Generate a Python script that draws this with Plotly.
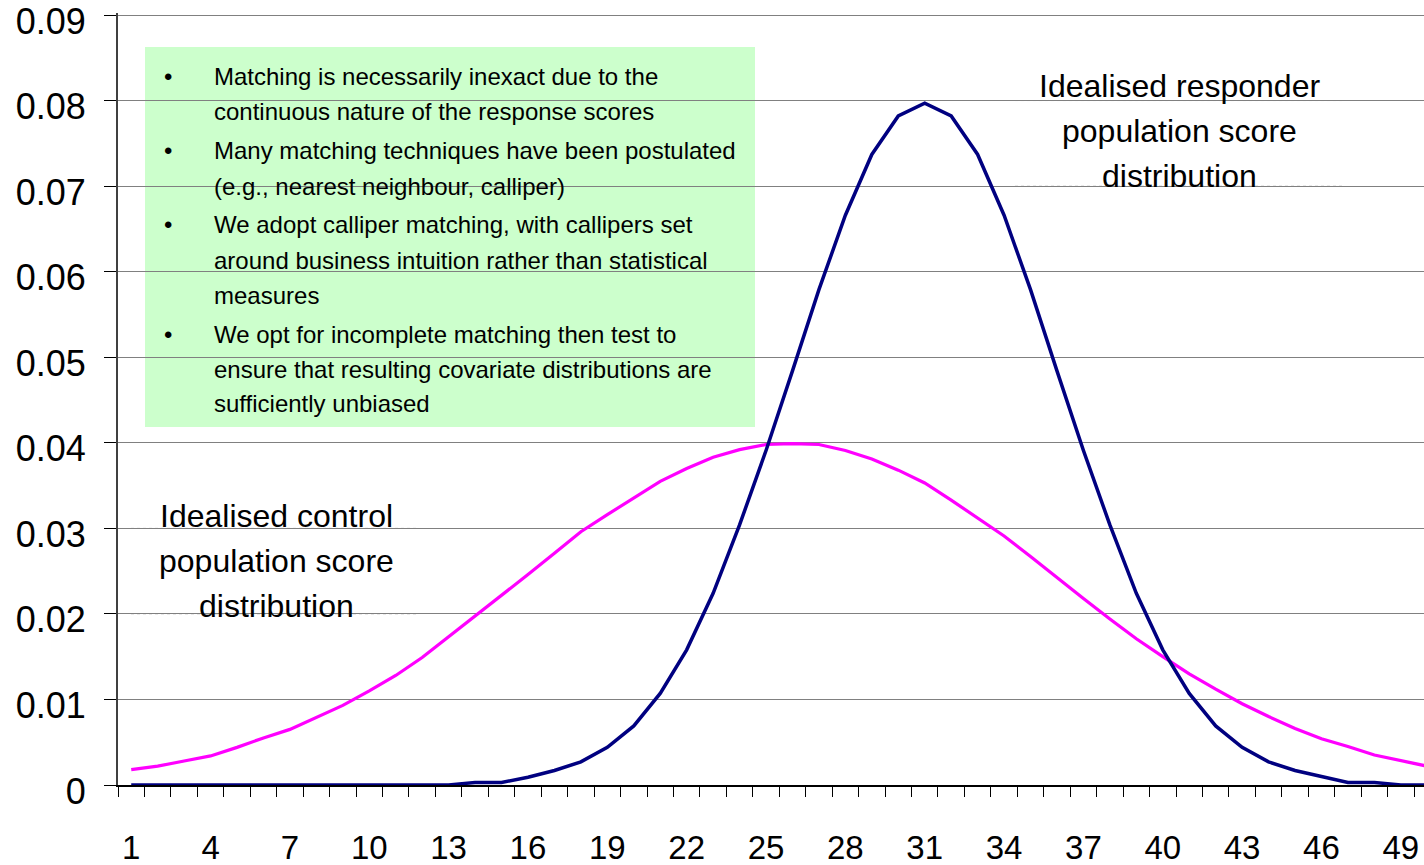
import plotly.graph_objects as go

# ---- data -------------------------------------------------------------
scores = list(range(1, 51))

responder = [
    0.0000, 0.0000, 0.0000, 0.0000, 0.0000, 0.0000, 0.0000, 0.0000, 0.0000, 0.0000,
    0.0000, 0.0000, 0.0000, 0.0003, 0.0003, 0.0009, 0.0017, 0.0027, 0.0044, 0.0069,
    0.0107, 0.0158, 0.0224, 0.0304, 0.0391, 0.0484, 0.0579, 0.0666, 0.0737, 0.0782,
    0.0797, 0.0782, 0.0737, 0.0666, 0.0579, 0.0484, 0.0391, 0.0304, 0.0224, 0.0158,
    0.0107, 0.0069, 0.0044, 0.0027, 0.0017, 0.0010, 0.0003, 0.0003, 0.0000, 0.0000,
]

control = [
    0.0018, 0.0022, 0.0028, 0.0034, 0.0044, 0.0055, 0.0065, 0.0079, 0.0093, 0.0110,
    0.0128, 0.0149, 0.0173, 0.0197, 0.0221, 0.0246, 0.0271, 0.0296, 0.0316, 0.0335,
    0.0355, 0.0370, 0.0383, 0.0392, 0.0398, 0.0399, 0.0398, 0.0391, 0.0381, 0.0368,
    0.0353, 0.0333, 0.0312, 0.0291, 0.0267, 0.0242, 0.0218, 0.0194, 0.0171, 0.0150,
    0.0130, 0.0112, 0.0095, 0.0080, 0.0066, 0.0054, 0.0045, 0.0035, 0.0028, 0.0022,
]

x_tick_values = list(range(1, 50, 3))
y_tick_values = [0, 0.01, 0.02, 0.03, 0.04, 0.05, 0.06, 0.07, 0.08, 0.09]
y_tick_labels = ["0", "0.01", "0.02", "0.03", "0.04", "0.05", "0.06", "0.07", "0.08", "0.09"]

bullets = [
    ["Matching is necessarily inexact due to the",
     "continuous nature of the response scores"],
    ["Many matching techniques have been postulated",
     "(e.g., nearest neighbour, calliper)"],
    ["We adopt calliper matching, with callipers set",
     "around business intuition rather than statistical",
     "measures"],
    ["We opt for incomplete matching then test to",
     "ensure that resulting covariate distributions are",
     "sufficiently unbiased"],
]

responder_label = ["Idealised responder", "population score", "distribution"]
control_label = ["Idealised control", "population score", "distribution"]

# ---- layout geometry (pixels) ----------------------------------------
W, H = 1424, 865
ML, MR, MT, MB = 118, 0, 13, 80
PW, PH = W - ML - MR, H - MT - MB
CAT_W = 26.45            # pixel width of one score category
Y_PX_PER_UNIT = 770 / 0.09  # vertical scale of the value axis
Y_TOP = PH / Y_PX_PER_UNIT  # a touch above 0.09 so the top tick stays in range


def px(xp):
    return (xp - ML) / PW


def py(yp):
    return (H - MB - yp) / PH


FONT = "Arial, Liberation Sans, sans-serif"

fig = go.Figure()
fig.add_trace(go.Scatter(x=scores, y=control, mode="lines",
                         line=dict(color="#FF00FF", width=3.2),
                         name="Control", showlegend=False, hoverinfo="skip"))
fig.add_trace(go.Scatter(x=scores, y=responder, mode="lines",
                         line=dict(color="#000080", width=3.5),
                         name="Responder", showlegend=False, hoverinfo="skip"))

shapes = []
annotations = []

# green bullet panel
shapes.append(dict(type="rect", xref="paper", yref="paper",
                   x0=px(145), x1=px(755), y0=py(427), y1=py(47),
                   fillcolor="#CCFFCC", line=dict(width=0), layer="between"))

line_y = [[77, 111], [151, 186], [225, 260, 295], [334, 369, 403]]
for lines, ys in zip(bullets, line_y):
    annotations.append(dict(xref="paper", yref="paper", x=px(168), y=py(ys[0]),
                            text="•", showarrow=False, xanchor="center",
                            yanchor="middle", font=dict(family=FONT, size=24, color="black")))
    for text, yc in zip(lines, ys):
        annotations.append(dict(xref="paper", yref="paper", x=px(212), y=py(yc),
                                text=text, showarrow=False, xanchor="left",
                                yanchor="middle", font=dict(family=FONT, size=24, color="black")))


def label_block(lines, xc, ys, x0, x1, yb0, yb1, grid_vals):
    shapes.append(dict(type="rect", xref="paper", yref="paper",
                       x0=px(x0), x1=px(x1), y0=py(yb1), y1=py(yb0),
                       fillcolor="white", line=dict(width=0), layer="between"))
    for gv in grid_vals:
        shapes.append(dict(type="line", xref="paper", yref="y",
                           x0=px(x0), x1=px(x1), y0=gv, y1=gv,
                           line=dict(color="#C8C8C8", width=1, dash="dot"),
                           layer="between"))
    for text, yc in zip(lines, ys):
        annotations.append(dict(xref="paper", yref="paper", x=px(xc), y=py(yc),
                                text=text, showarrow=False, xanchor="center",
                                yanchor="middle", font=dict(family=FONT, size=32, color="black")))


label_block(responder_label, 1179, [86, 131, 176], 1015, 1343, 60, 200, [0.08, 0.07])
label_block(control_label, 276, [516, 561, 606], 131, 418, 492, 628, [0.03, 0.02])

fig.update_layout(
    width=W, height=H,
    margin=dict(l=ML, r=MR, t=MT, b=MB, pad=0, autoexpand=False),
    paper_bgcolor="white", plot_bgcolor="white",
    shapes=shapes, annotations=annotations,
    showlegend=False,
    xaxis=dict(
        range=[0.5, 0.5 + PW / CAT_W],
        automargin=False,
        tickmode="array", tickvals=x_tick_values,
        ticktext=[str(v) for v in x_tick_values],
        ticks="", showgrid=False, zeroline=False,
        showline=True, linecolor="black", linewidth=1.5,
        tickfont=dict(family=FONT, size=33, color="black"),
        ticklabelstandoff=33, ticklabeloverflow="allow",
        minor=dict(ticks="outside", tickmode="linear", tick0=0.5, dtick=1,
                   ticklen=10, tickwidth=1, tickcolor="black", showgrid=False),
        fixedrange=True,
    ),
    yaxis=dict(
        range=[0, Y_TOP],
        automargin=False,
        tickmode="array", tickvals=y_tick_values, ticktext=y_tick_labels,
        ticks="outside", ticklen=12, tickwidth=1, tickcolor="black",
        showgrid=True, gridcolor="#808080", gridwidth=1,
        zeroline=False,
        showline=True, linecolor="#404040", linewidth=2,
        tickfont=dict(family=FONT, size=36, color="black"),
        ticklabelstandoff=11, ticklabelshift=6, ticklabeloverflow="allow",
        fixedrange=True,
    ),
)

fig.write_html("out.html")
